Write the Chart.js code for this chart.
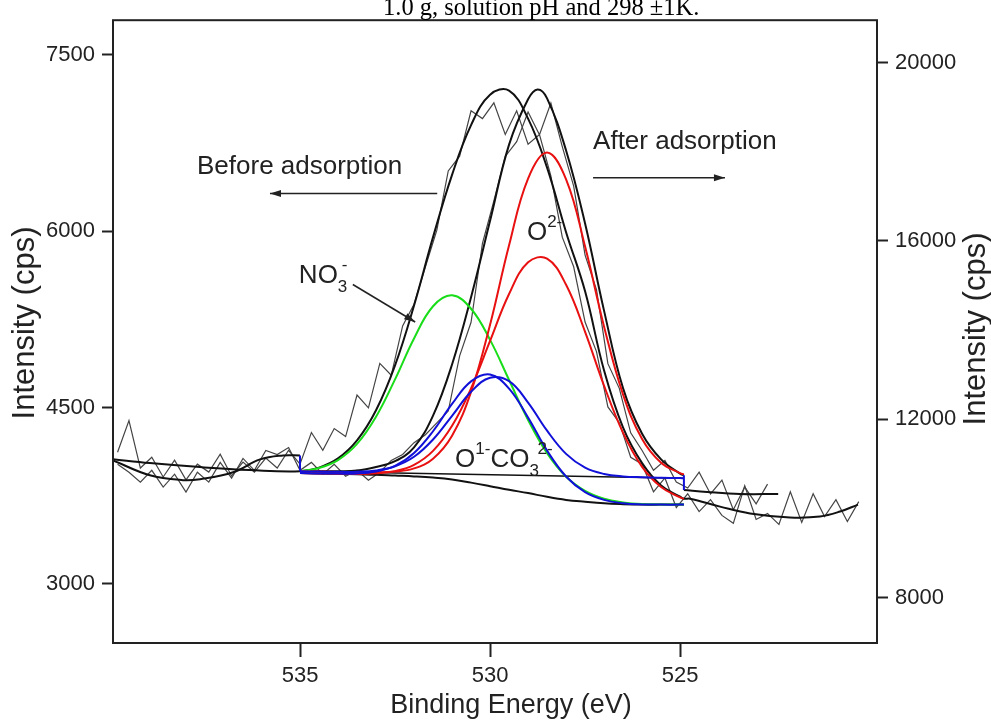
<!DOCTYPE html>
<html>
<head>
<meta charset="utf-8">
<script src="https://cdn.jsdelivr.net/npm/chart.js@4.4.1/dist/chart.umd.min.js"></script>
<style>
  html, body { margin: 0; padding: 0; background: #fff; }
  #xps { display: block; }
</style>
</head>
<body>
<canvas id="xps" width="991" height="728"></canvas>
<script>
// binding energy grid of the fitted region (eV)
const fitEv = [535, 534.5, 534, 533.5, 533, 532.5, 532, 531.5, 531, 530.5, 530, 529.5, 529, 528.5, 528, 527.5, 527, 526.5, 526, 525.5, 525, 524.9];

// before adsorption (left axis, cps)
const beforeBase = [3943, 3939, 3936, 3932, 3928, 3921, 3914, 3904, 3888, 3861, 3831, 3800, 3772, 3740, 3714, 3698, 3685, 3678, 3674, 3674, 3674, 3674];
const beforeNO3 = [3958, 3985, 4053, 4190, 4421, 4739, 5087, 5361, 5454, 5340, 5075, 4734, 4394, 4111, 3911, 3791, 3724, 3693, 3679, 3676, 3674, 3674];
const beforeO2 = [3943, 3939, 3937, 3935, 3940, 3959, 4012, 4131, 4344, 4663, 5066, 5465, 5735, 5766, 5544, 5144, 4685, 4284, 3995, 3823, 3735, 3723];
const beforeO1 = [3943, 3939, 3938, 3939, 3956, 4003, 4113, 4298, 4530, 4722, 4780, 4661, 4414, 4133, 3913, 3780, 3714, 3686, 3676, 3674, 3674, 3674];
const beforeFitEv = [539.92, 538.95, 537.63, 536.32, 535, 534.5, 534, 533.5, 533, 532.5, 532, 531.5, 531, 530.5, 530, 529.5, 529, 528.5, 528, 527.5, 527, 526.5, 526, 525.5, 525, 524.9,
  524.74, 523.95, 523.16, 522.11, 521.32, 520.79, 520.32];
const beforeFit = [4060, 4027, 3993, 3968, 3958, 3989, 4067, 4220, 4476, 4858, 5368, 5949, 6479, 6902, 7160, 7195, 6957, 6540, 5991, 5488, 4814, 4329, 4027, 3837, 3741, 3724,
  3724, 3657, 3599, 3565, 3573, 3615, 3674];

// after adsorption (right axis, cps)
const afterBaseEv = [535, 524.9];
const afterBase = [10834, 10679];
const afterO2 = [10834, 10827, 10819, 10814, 10810, 10827, 10898, 11117, 11631, 12614, 14122, 15904, 17399, 17985, 17383, 15875, 14078, 12554, 11556, 11024, 10792, 10765];
const afterO1 = [10834, 10827, 10821, 10825, 10854, 10947, 11159, 11547, 12078, 12616, 12933, 12855, 12375, 11744, 11224, 10916, 10774, 10719, 10699, 10688, 10681, 10679];
const afterFitEv = [535, 534.5, 534, 533.5, 533, 532.5, 532, 531.5, 531, 530.5, 530, 529.5, 529, 528.75, 528.5, 528, 527.5, 527, 526.5, 526, 525.5, 525, 524.9];
const afterFit = [10834, 10834, 10834, 10850, 10931, 11060, 11372, 12081, 13230, 14740, 16453, 18162, 19180, 19400, 19200, 18030, 16391, 14432, 12694, 11675, 11100, 10779, 10745];
const afterOuterLEv = [539.92, 538.95, 538.08, 537.63, 536.76, 536.05, 535.45, 535];
const afterOuterL = [11078, 10745, 10635, 10657, 10812, 11100, 11188, 11188];
const afterOuterREv = [524.9, 524.29, 523.42, 522.42];
const afterOuterR = [10414, 10369, 10325, 10325];
const afterStepEv = [535, 535, 524.9, 524.9];
const afterStep = [11188, 10834, 10745, 10414];

// raw spectra
const rawEv = [539.8, 539.5, 539.2, 538.9, 538.6, 538.3, 538, 537.7, 537.4, 537.1, 536.8, 536.5, 536.2, 535.9, 535.6, 535.3,
  535, 534.7, 534.4, 534.1, 533.8, 533.5, 533.2, 532.9, 532.6, 532.3, 532, 531.7, 531.4, 531.1, 530.8, 530.5,
  530.2, 529.9, 529.6, 529.3, 529, 528.7, 528.4, 528.1, 527.8, 527.5, 527.2, 526.9, 526.6, 526.3, 526, 525.7,
  525.4, 525.1, 524.8, 524.5, 524.2, 523.9, 523.6, 523.3, 523, 522.7, 522.4, 522.1, 521.8, 521.5, 521.2, 520.9,
  520.6, 520.3];
const rawBefore = [4119, 4388, 3985, 4077, 3909, 4052, 3884, 4018, 3951, 4102, 3918, 4035, 3951, 4069, 3985, 4136,
  4018, 4287, 4136, 4321, 4253, 4606, 4497, 4875, 4774, 5194, 5378, 5697, 6008, 6512, 6638, 7024,
  6957, 7091, 6822, 7024, 6739, 6822, 6470, 5949, 5697, 5227, 4975, 4505, 4371, 4077, 4018, 3783,
  3901, 3649, 3766, 3615, 3716, 3582, 3515, 3834, 3548, 3599, 3506, 3783, 3523, 3766, 3573, 3716,
  3531, 3699];
const rawAfter = [10989, 10812, 10590, 10856, 10480, 10768, 10369, 10812, 10590, 11033, 10679, 11122, 10856, 11299, 11210, 11365,
  10856, 11033, 10768, 10989, 10723, 10856, 10635, 10812, 11078, 11210, 11476, 11653, 11919, 12185, 13424, 14177,
  15948, 16900, 17897, 18229, 18893, 18384, 19092, 18118, 17232, 15683, 14908, 13247, 12694, 11697, 11299, 10856,
  11078, 10590, 10458, 10812, 10325, 10635, 9971, 10480, 10103, 10546];

// axes
const xTicks = [535, 530, 525];
const yTicks = [3000, 4500, 6000, 7500];
const y1Ticks = [8000, 12000, 16000, 20000];

// text on the plot (positions in eV / left-axis cps)
const notes = [
  { x: 537.71, y: 6487, parts: [{ t: 'Before adsorption' }] },
  { x: 527.29, y: 6697, parts: [{ t: 'After adsorption' }] },
  { x: 535.03, y: 5563, parts: [{ t: 'NO' }, { t: '3', s: 'sub', stack: true }, { t: '-', s: 'sup', dx: 4 }] },
  { x: 529.03, y: 5924, parts: [{ t: 'O' }, { t: '2-', s: 'sup' }] },
  { x: 530.92, y: 3993, parts: [{ t: 'O' }, { t: '1-', s: 'sup' }, { t: 'CO' }, { t: '3', s: 'sub', stack: true }, { t: '2-', s: 'sup', dx: 8 }] }
];
const arrows = [
  [531.39, 6319, 535.79, 6319],
  [527.29, 6453, 523.82, 6453],
  [533.61, 5546, 531.97, 5227]
];

const SANS = '"Liberation Sans", Arial, sans-serif';
const SERIF = '"Liberation Serif", "Times New Roman", serif';
const INK = '#222';

const pts = (xs, ys) => xs.map((x, i) => ({ x: x, y: ys[i] }));
function curve(data, color, width, axis, tension) {
  return { data: data, borderColor: color, borderWidth: width, yAxisID: axis,
    pointRadius: 0, tension: tension, fill: false, spanGaps: false };
}

const stepData = pts(afterStepEv.slice(0, 2), afterStep.slice(0, 2))
  .concat([{ x: 530, y: null }], pts(afterStepEv.slice(2), afterStep.slice(2)));

function arrow(ctx, x1, y1, x2, y2) {
  ctx.beginPath(); ctx.moveTo(x1, y1); ctx.lineTo(x2, y2); ctx.stroke();
  const a = Math.atan2(y2 - y1, x2 - x1);
  const c = Math.cos(a), s = Math.sin(a);
  ctx.beginPath();
  ctx.moveTo(x2, y2);
  ctx.lineTo(x2 - 11 * c + 3.5 * s, y2 - 11 * s - 3.5 * c);
  ctx.lineTo(x2 - 11 * c - 3.5 * s, y2 - 11 * s + 3.5 * c);
  ctx.closePath(); ctx.fill();
}

function chem(ctx, x, y, parts) {
  let cx = x;
  parts.forEach(p => {
    ctx.font = (p.s ? 17 : 26) + 'px ' + SANS;
    const dy = p.s === 'sup' ? -13 : (p.s === 'sub' ? 9 : 0);
    ctx.fillText(p.t, cx + (p.dx || 0), y + dy);
    if (!p.stack) cx += ctx.measureText(p.t).width + (p.dx || 0);
  });
}

const decor = {
  id: 'decor',
  afterDatasetsDraw(chart) {
    const ctx = chart.ctx, a = chart.chartArea;
    ctx.save();
    ctx.strokeStyle = INK; ctx.lineWidth = 2;
    ctx.strokeRect(a.left, a.top, a.right - a.left, a.bottom - a.top);
    ctx.restore();
  },
  afterDraw(chart) {
    const ctx = chart.ctx, sx = chart.scales.x, sy = chart.scales.y;
    ctx.save();
    ctx.fillStyle = INK; ctx.strokeStyle = INK; ctx.lineWidth = 1.5;
    ctx.textBaseline = 'alphabetic'; ctx.textAlign = 'left';
    notes.forEach(n => chem(ctx, sx.getPixelForValue(n.x), sy.getPixelForValue(n.y), n.parts));
    arrows.forEach(r => arrow(ctx, sx.getPixelForValue(r[0]), sy.getPixelForValue(r[1]),
      sx.getPixelForValue(r[2]), sy.getPixelForValue(r[3])));

    // axis titles
    ctx.textAlign = 'center'; ctx.textBaseline = 'middle';
    ctx.font = '27px ' + SANS;
    ctx.fillText('Binding Energy (eV)', 511, 706);
    ctx.font = '31px ' + SANS;
    [[25, 323], [976, 329]].forEach(p => {
      ctx.save(); ctx.translate(p[0], p[1]); ctx.rotate(-Math.PI / 2);
      ctx.fillText('Intensity (cps)', 0, 0); ctx.restore();
    });

    // caption cut off at the top of the figure
    ctx.fillStyle = '#000'; ctx.textAlign = 'left'; ctx.textBaseline = 'alphabetic';
    ctx.font = '24.5px ' + SERIF;
    ctx.fillText('1.0 g, solution pH and 298 \u00b11K.', 383, 15);
    ctx.restore();
  }
};

const tickFont = { family: SANS, size: 22 };
const fixedTicks = list => scale => { scale.ticks = list.map(v => ({ value: v })); };
const plain = v => String(v);

new Chart(document.getElementById('xps'), {
  type: 'line',
  data: {
    datasets: [
      curve(stepData, '#1010d8', 2, 'y1', 0),
      curve(pts(fitEv, afterO1), '#1010d8', 2, 'y1', 0.4),
      curve(pts(fitEv, beforeO1), '#1010d8', 2, 'y', 0.4),
      curve(pts(fitEv, afterO2), '#e81010', 2, 'y1', 0.4),
      curve(pts(fitEv, beforeO2), '#e81010', 2, 'y', 0.4),
      curve(pts(fitEv, beforeNO3), '#18dd18', 2, 'y', 0.4),
      curve(pts(afterFitEv, afterFit), '#111', 2, 'y1', 0.4),
      curve(pts(beforeFitEv, beforeFit), '#111', 2, 'y', 0.4),
      curve(pts(afterOuterLEv, afterOuterL), '#111', 2, 'y1', 0.4),
      curve(pts(afterOuterREv, afterOuterR), '#111', 2, 'y1', 0.4),
      curve(pts(fitEv, beforeBase), '#111', 2, 'y', 0.4),
      curve(pts(afterBaseEv, afterBase), '#111', 1.5, 'y1', 0),
      curve(pts(rawEv.slice(0, rawAfter.length), rawAfter), '#444', 1.2, 'y1', 0),
      curve(pts(rawEv, rawBefore), '#444', 1.2, 'y', 0)
    ]
  },
  options: {
    responsive: false,
    devicePixelRatio: 1,
    animation: false,
    layout: { padding: { top: 12, left: 0, right: 0, bottom: 0 } },
    plugins: { legend: { display: false }, tooltip: { enabled: false } },
    scales: {
      x: {
        type: 'linear', reverse: true, min: 519.82, max: 539.92,
        afterBuildTicks: fixedTicks(xTicks),
        afterFit: s => { s.height = 85; },
        ticks: { font: tickFont, color: INK, padding: 6, maxRotation: 0, callback: plain },
        grid: { drawOnChartArea: false, tickLength: 14, tickWidth: 2, tickColor: INK },
        border: { display: false }
      },
      y: {
        position: 'left', min: 2497, max: 7794,
        afterBuildTicks: fixedTicks(yTicks),
        afterFit: s => { s.width = 113; },
        ticks: { font: tickFont, color: INK, padding: 7, callback: plain },
        grid: { drawOnChartArea: false, tickLength: 11, tickWidth: 2, tickColor: INK },
        border: { display: false }
      },
      y1: {
        position: 'right', min: 6982, max: 20952,
        afterBuildTicks: fixedTicks(y1Ticks),
        afterFit: s => { s.width = 114; },
        ticks: { font: tickFont, color: INK, padding: 7, callback: plain },
        grid: { drawOnChartArea: false, tickLength: 11, tickWidth: 2, tickColor: INK },
        border: { display: false }
      }
    }
  },
  plugins: [decor]
});
</script>
</body>
</html>
